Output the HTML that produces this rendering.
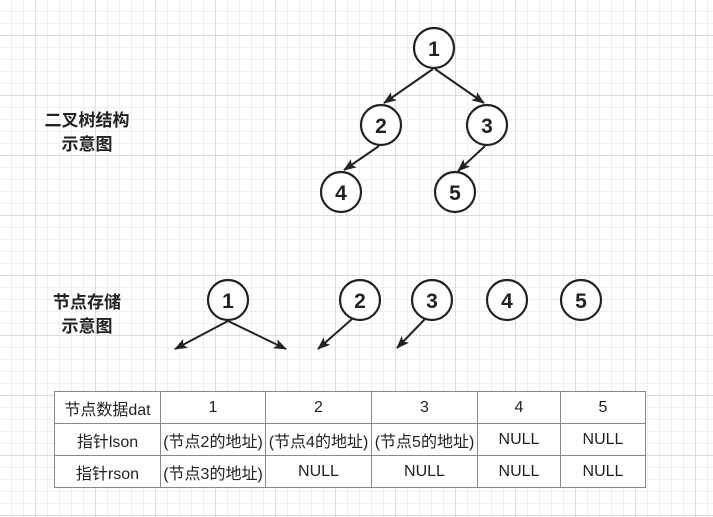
<!DOCTYPE html>
<html><head><meta charset="utf-8"><style>
html,body{margin:0;padding:0}
body{width:713px;height:517px;position:relative;overflow:hidden;background-color:#fff;
background-image:
linear-gradient(#dcdcdc 1px,transparent 1px),
linear-gradient(90deg,#dcdcdc 1px,transparent 1px),
linear-gradient(#efefef 1px,transparent 1px),
linear-gradient(90deg,#efefef 1px,transparent 1px);
background-size:60px 60px,60px 60px,12px 12px,12px 12px;
background-position:0 35px,35px 0,0 11px,11px 0;
font-family:"Liberation Sans","Noto Sans CJK SC",sans-serif;}
.lbl{position:absolute;font-weight:bold;font-size:17px;color:#222;text-align:center;line-height:24px}
table{position:absolute;left:54px;top:391px;border-collapse:collapse;background:#fff;font-size:16px;color:#222}
td{border:1px solid #888;text-align:center;height:31px;padding:0;white-space:nowrap}
</style></head><body>
<div class="lbl" style="left:32px;top:109px;width:110px">二叉树结构<br>示意图</div>
<div class="lbl" style="left:37px;top:291px;width:100px">节点存储<br>示意图</div>
<svg width="713" height="517" style="position:absolute;left:0;top:0">
<defs><marker id="a" markerWidth="13" markerHeight="10" refX="12" refY="5" orient="auto" markerUnits="userSpaceOnUse"><path d="M0,0 L13,5 L0,10 L3,5z" fill="#222"/></marker></defs>
<g stroke="#222" stroke-width="2.2" fill="#fff">
<circle cx="434" cy="48" r="20"/><circle cx="381" cy="125" r="20"/><circle cx="487" cy="125" r="20"/>
<circle cx="341" cy="192" r="20"/><circle cx="455" cy="192" r="20"/>
<circle cx="228" cy="300" r="20"/><circle cx="360" cy="300" r="20"/><circle cx="432" cy="300" r="20"/>
<circle cx="507" cy="300" r="20"/><circle cx="581" cy="300" r="20"/>
</g>
<g stroke="#222" stroke-width="2" marker-end="url(#a)">
<line x1="433" y1="69" x2="384" y2="103"/><line x1="435" y1="69" x2="484" y2="103"/>
<line x1="379" y1="146" x2="344" y2="170"/><line x1="485" y1="146" x2="458" y2="171"/>
<line x1="228" y1="321" x2="175" y2="349"/><line x1="228" y1="321" x2="286" y2="349"/>
<line x1="352" y1="319" x2="318" y2="349"/><line x1="425" y1="319" x2="397" y2="348"/>
</g>
<g font-family="Liberation Sans,sans-serif" font-weight="bold" font-size="21" fill="#222" text-anchor="middle">
<text x="434" y="56">1</text><text x="381" y="133">2</text><text x="487" y="133">3</text>
<text x="341" y="200">4</text><text x="455" y="200">5</text>
<text x="228" y="308">1</text><text x="360" y="308">2</text><text x="432" y="308">3</text>
<text x="507" y="308">4</text><text x="581" y="308">5</text>
</g>
</svg>
<table>
<tr><td style="width:105px">节点数据dat</td><td style="width:104px">1</td><td style="width:105px">2</td><td style="width:105px">3</td><td style="width:82px">4</td><td style="width:84px">5</td></tr>
<tr><td>指针lson</td><td>(节点2的地址)</td><td>(节点4的地址)</td><td>(节点5的地址)</td><td>NULL</td><td>NULL</td></tr>
<tr><td>指针rson</td><td>(节点3的地址)</td><td>NULL</td><td>NULL</td><td>NULL</td><td>NULL</td></tr>
</table>
</body></html>
